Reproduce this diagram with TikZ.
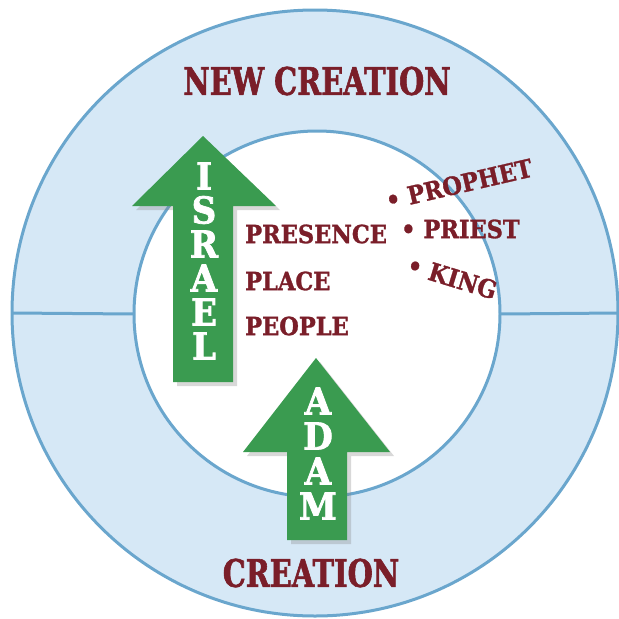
\documentclass[tikz,border=0pt]{standalone}
\usepackage{fontspec}
\newfontfamily\slab{DejaVu Serif Bold}[FakeStretch=0.9, FakeBold=1.2]
\newfontfamily\slabnarrow{DejaVu Serif Bold}[FakeStretch=0.76, FakeBold=1.5]
\newfontfamily\slabheavy{DejaVu Serif Bold}[FakeStretch=0.92, FakeBold=2]
\usetikzlibrary{positioning,shadows}
\definecolor{ringblue}{HTML}{D6E8F6}
\definecolor{lineblue}{HTML}{6AA6CD}
\definecolor{arrowgreen}{HTML}{3A9B50}
\definecolor{wine}{HTML}{7A1E29}

\begin{document}
\begin{tikzpicture}[x=1pt,y=-1pt,
	ring/.style={circle, draw=lineblue, line width=3pt, outer sep=0pt, inner sep=0pt},
	bigarrow/.style={fill=arrowgreen, drop shadow={opacity=0.3, shadow xshift=4pt, shadow yshift=-4pt}},
	arrowletter/.style={text=white, font=\slabheavy\fontsize{37}{37}\selectfont, inner sep=0pt},
	wordtext/.style={text=wine, font=\slab\fontsize{25}{25}\selectfont, inner sep=0pt},
	bigword/.style={text=wine, font=\slabnarrow\fontsize{38}{38}\selectfont, inner sep=0pt}
	]
	\useasboundingbox (0,0) rectangle (619,619);
	% the two rings
	\node[ring, fill=ringblue, minimum size=606pt] (outer) at (315,313) {};
	\node[ring, fill=white, minimum size=366pt] (inner) at (317,314) {};
	\draw[draw=lineblue, line width=3pt] (outer.west) -- (inner.west);
	\draw[draw=lineblue, line width=3pt] (inner.east) -- (outer.east);
	% israel arrow
	\fill[bigarrow] (173,382) -- (173,206) -- (132,206) -- (203,136) -- (276,206) -- (233,206) -- (233,382) -- cycle;
	\foreach \ch [count=\i] in {I,S,R,A,E,L}
		\node[arrowletter] (israel-\i) at (204,{142+34*\i}) {\ch};
	% adam arrow
	\fill[bigarrow] (287,540) -- (287,452) -- (243,452) -- (316,358) -- (390,452) -- (347,452) -- (347,540) -- cycle;
	\foreach \ch [count=\i] in {A,D,A,M}
		\node[arrowletter] (adam-\i) at (318,{366+35*\i}) {\ch};
	% titles
	\node[bigword] (newcreation) at (317,81) {NEW CREATION};
	\node[bigword] (creation) at (311,573) {CREATION};
	% three p's
	\node[wordtext, anchor=west] (presence) at (245,234) {PRESENCE};
	\node[wordtext, anchor=west] (place) at (245,281) {PLACE};
	\node[wordtext, anchor=west] (people) at (245,326) {PEOPLE};
	% offices
	\node[wordtext, anchor=west, rotate=13] (prophet) at (386,201) {• PROPHET};
	\node[wordtext, anchor=west] (priest) at (401,229) {• PRIEST};
	\node[wordtext, anchor=west, rotate=-17] (king) at (408,264) {• KING};
\end{tikzpicture}
\end{document}
